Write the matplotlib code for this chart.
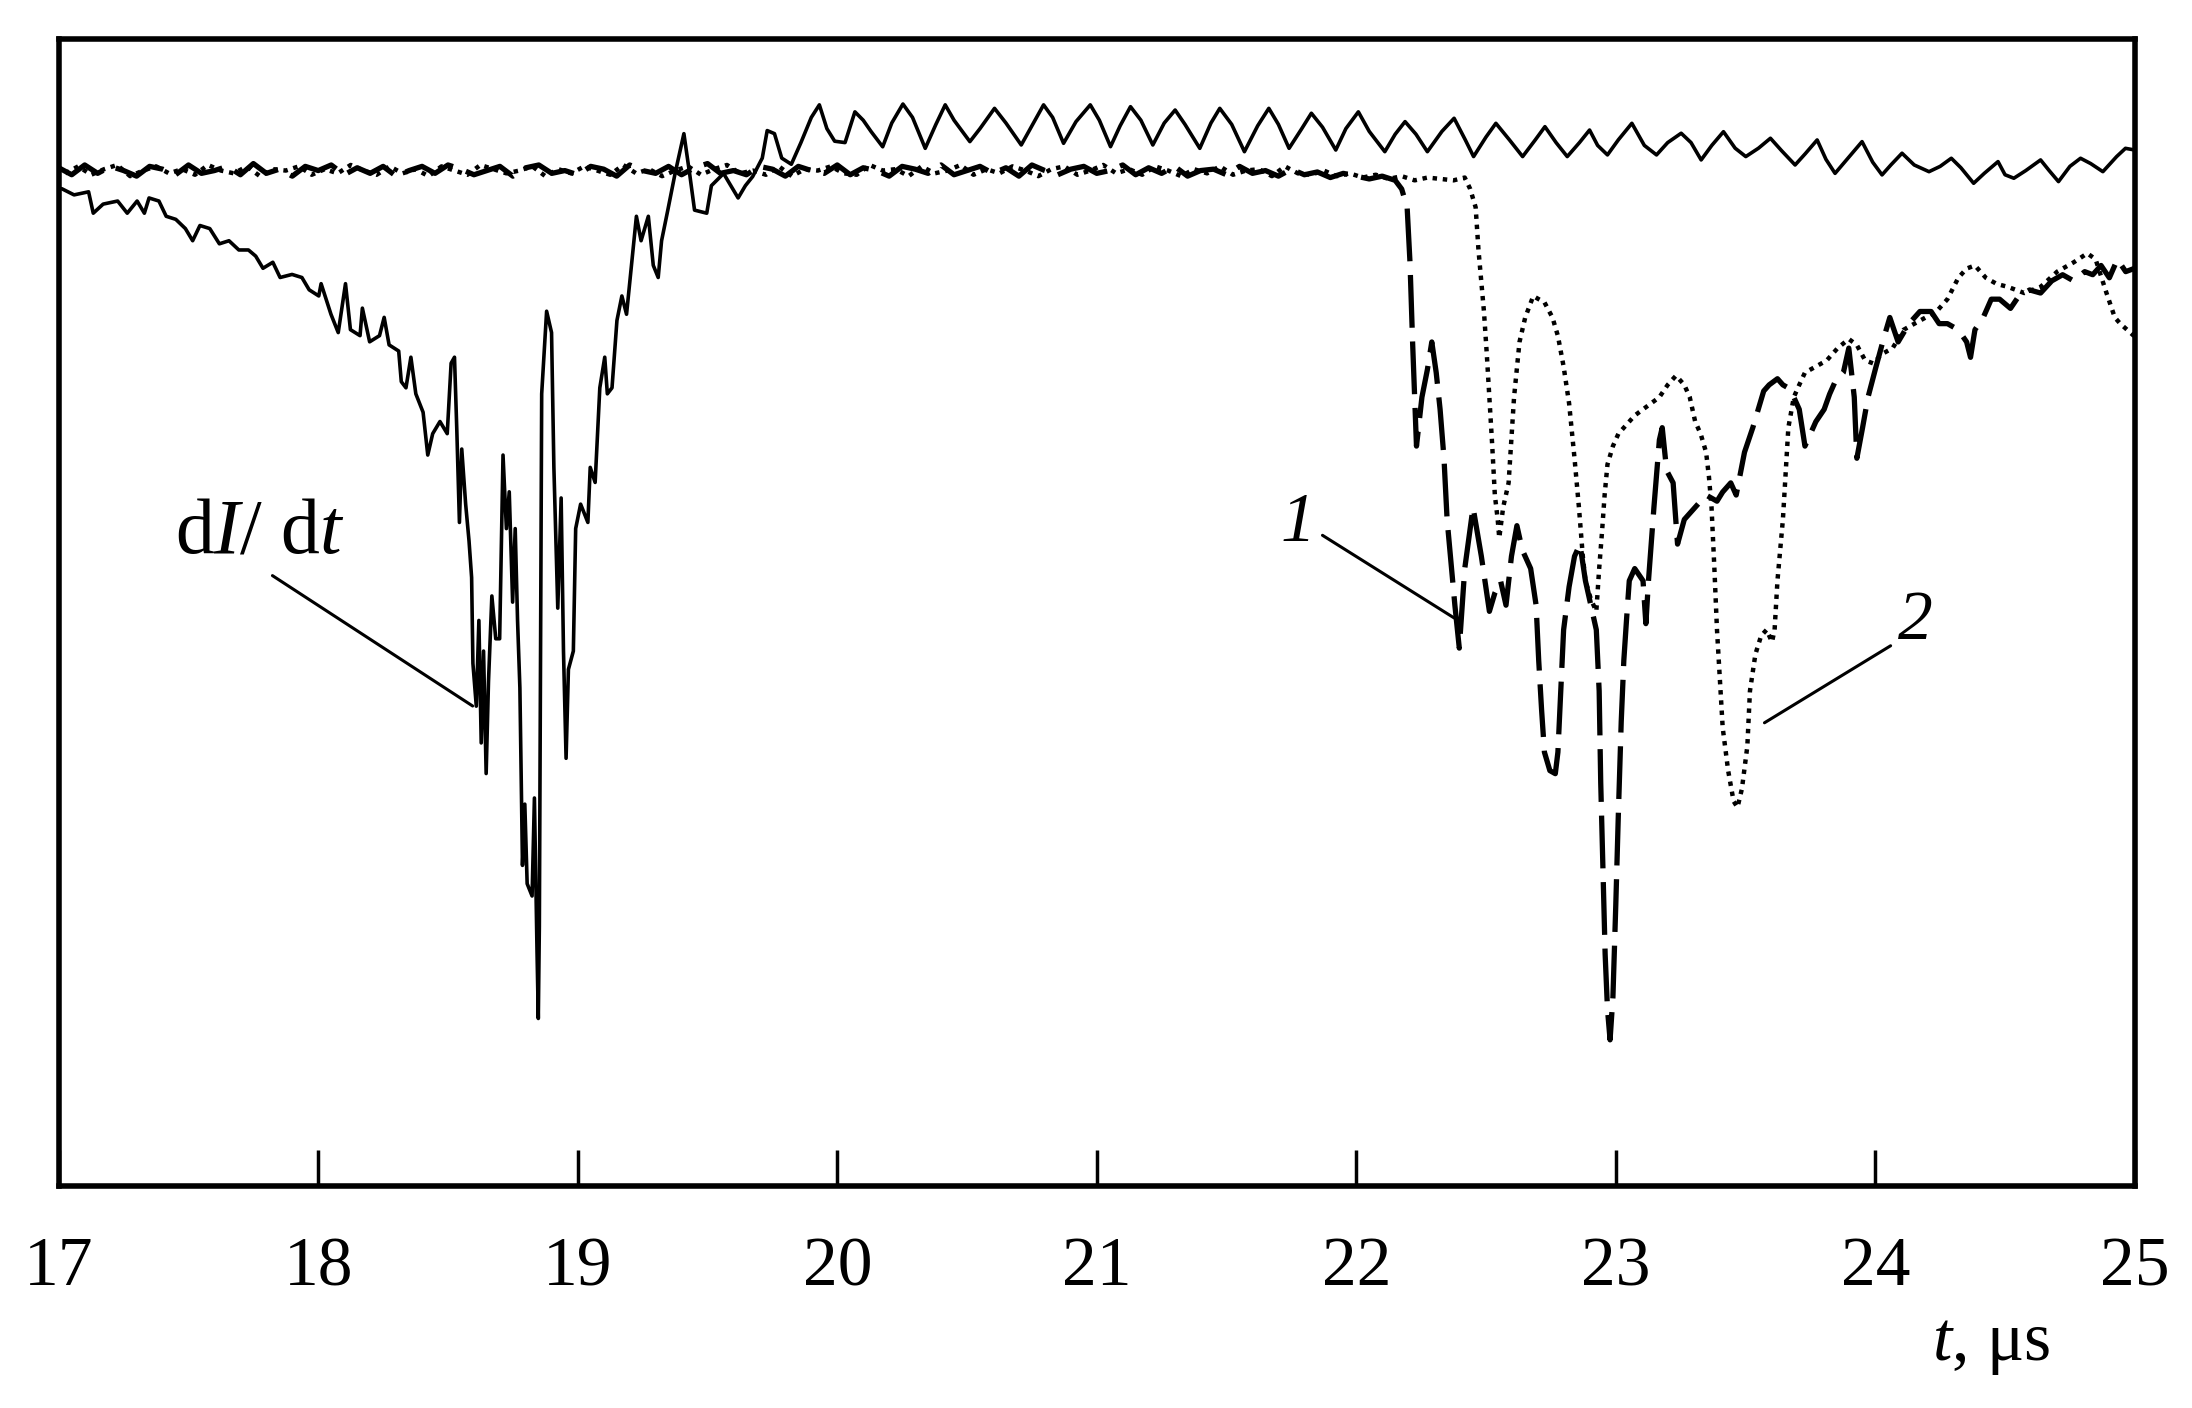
import matplotlib.pyplot as plt

plt.rcParams['font.family'] = ['Liberation Serif', 'DejaVu Serif']
plt.rcParams['mathtext.fontset'] = 'custom'
plt.rcParams['mathtext.rm'] = 'Liberation Serif'
plt.rcParams['mathtext.it'] = 'Liberation Serif:italic'

# time in microseconds, signals in arbitrary units (0 = probe baseline)

# dI/dt trace (solid)
didt_t = [17.000, 17.012, 17.059, 17.115, 17.133, 17.171, 17.227, 17.264, 17.302, 17.330,
          17.348, 17.386, 17.414, 17.451, 17.488, 17.516, 17.544, 17.582, 17.619, 17.656,
          17.694, 17.731, 17.759, 17.787, 17.825, 17.853, 17.899, 17.937, 17.965, 18.002,
          18.011, 18.049, 18.077, 18.105, 18.124, 18.161, 18.170, 18.198, 18.236, 18.254,
          18.273, 18.310, 18.320, 18.338, 18.357, 18.376, 18.404, 18.422, 18.441, 18.469,
          18.497, 18.512, 18.525, 18.534, 18.544, 18.553, 18.568, 18.581, 18.591, 18.596,
          18.609, 18.619, 18.628, 18.637, 18.647, 18.656, 18.669, 18.684, 18.699, 18.712,
          18.725, 18.736, 18.749, 18.759, 18.768, 18.777, 18.787, 18.796, 18.805, 18.824,
          18.833, 18.843, 18.848, 18.852, 18.861, 18.880, 18.899, 18.908, 18.923, 18.936,
          18.945, 18.955, 18.964, 18.983, 18.992, 19.011, 19.039, 19.048, 19.067, 19.085,
          19.104, 19.114, 19.132, 19.151, 19.170, 19.188, 19.207, 19.226, 19.244, 19.272,
          19.291, 19.310, 19.323, 19.347, 19.375, 19.409, 19.431, 19.450, 19.497, 19.515,
          19.562, 19.618, 19.646, 19.674, 19.711, 19.730, 19.758, 19.786, 19.823,
          19.86, 19.90, 19.931, 19.96, 19.99, 20.03, 20.068, 20.10, 20.13, 20.175,
          20.21, 20.253, 20.29, 20.339, 20.38, 20.416, 20.45, 20.511, 20.55, 20.606,
          20.65, 20.709, 20.75, 20.795, 20.83, 20.872, 20.92, 20.975, 21.01, 21.053,
          21.09, 21.130, 21.17, 21.216, 21.26, 21.302, 21.34, 21.397, 21.44, 21.474,
          21.52, 21.569, 21.62, 21.663, 21.70, 21.741, 21.79, 21.827, 21.87, 21.921,
          21.96, 22.008, 22.05, 22.110, 22.15, 22.188, 22.23, 22.274, 22.33, 22.377,
          22.42, 22.452, 22.50, 22.538, 22.59, 22.641, 22.69, 22.727, 22.77, 22.813,
          22.86, 22.899, 22.93, 22.968, 23.01, 23.062, 23.11, 23.157, 23.20, 23.252,
          23.29, 23.329, 23.37, 23.415, 23.46, 23.501, 23.55, 23.596, 23.64, 23.691,
          23.73, 23.776, 23.81, 23.845, 23.90, 23.949, 23.99, 24.026, 24.06, 24.103,
          24.15, 24.207, 24.25, 24.293, 24.33, 24.379, 24.42, 24.473, 24.50, 24.534,
          24.58, 24.637, 24.67, 24.706, 24.75, 24.791, 24.83, 24.877, 24.93, 24.964, 25.0]
didt_v = [-13.0, -13.0, -17.4, -15.2, -30.5, -24.0, -21.8, -30.5, -21.8, -30.5,
          -19.6, -21.8, -32.7, -34.9, -41.5, -50.2, -39.3, -41.5, -52.4, -50.2,
          -56.8, -56.8, -61.2, -69.9, -65.6, -76.5, -74.3, -76.5, -85.3, -89.7,
          -80.9, -102.8, -115.9, -80.9, -113.8, -118.1, -98.4, -122.5, -118.1, -105.0,
          -124.7, -129.1, -151.0, -155.4, -133.5, -159.7, -172.9, -203.5, -188.2, -179.5,
          -188.2, -137.8, -133.5, -186.0, -251.7, -199.2, -238.6, -264.9, -291.1, -352.5,
          -383.1, -321.8, -409.4, -343.7, -431.3, -365.6, -304.3, -334.9, -334.9, -203.5,
          -256.1, -229.8, -308.7, -256.1, -321.8, -370.0, -497.0, -453.2, -510.1, -518.9,
          -448.8, -558.3, -606.5, -540.8, -159.7, -100.6, -115.9, -212.3, -313.0, -234.2,
          -343.7, -420.4, -356.8, -343.7, -256.1, -238.6, -251.7, -212.3, -223.1, -155.4,
          -133.5, -159.7, -155.4, -107.2, -89.7, -102.8, -67.8, -32.7, -50.2, -32.7,
          -67.8, -76.5, -50.2, -28.3, -2.1, 26.4, -2.1, -28.3, -30.5, -10.8,
          -2.1, -19.6, -10.8, -4.3, 8.9, 28.6, 26.4, 8.9, 4.5,
          20, 38, 47, 30, 21, 20, 42, 36, 28, 17,
          34, 47.6, 38, 15.9, 33, 47, 36, 20.7, 30, 44.5,
          34, 18.3, 32, 47, 38, 19.5, 35, 47, 36, 17.1,
          32, 45.7, 36, 18.3, 34, 43.3, 33, 15.9, 34, 44.5,
          33, 13.5, 32, 44.5, 33, 15.9, 30, 41, 31, 14.7,
          30, 42, 28, 13.5, 26, 35, 26, 13.5, 28, 37.4,
          22, 10, 24, 33.8, 22, 10, 22, 31.4, 20, 10,
          20, 29, 18, 11.2, 22, 33.8, 18, 11.2, 20, 26.7,
          20, 7.6, 18, 27.8, 16, 10, 16, 23.1, 14, 4.0,
          12, 21.9, 8, -2.0, 10, 20.7, 6, -3.1, 4, 12.4,
          4, -0.8, 3, 8.8, 2, -9.1, -2, 6.4, -3, -5.5,
          0, 7.6, 0, -7.9, 3, 8.8, 5, -0.8, 10, 15.9, 14.7]

# probe 1 (dashed)
p1_t = [17.00, 17.05, 17.10, 17.15, 17.20, 17.25, 17.30, 17.35, 17.40, 17.45,
        17.50, 17.55, 17.60, 17.65, 17.70, 17.75, 17.80, 17.85, 17.90, 17.95,
        18.00, 18.05, 18.10, 18.15, 18.20, 18.25, 18.30, 18.35, 18.40, 18.45,
        18.50, 18.55, 18.60, 18.65, 18.70, 18.75, 18.80, 18.85, 18.90, 18.95,
        19.00, 19.05, 19.10, 19.15, 19.20, 19.25, 19.30, 19.35, 19.40, 19.45,
        19.50, 19.55, 19.60, 19.65, 19.70, 19.75, 19.80, 19.85, 19.90, 19.95,
        20.00, 20.05, 20.10, 20.15, 20.20, 20.25, 20.30, 20.35, 20.40, 20.45,
        20.50, 20.55, 20.60, 20.65, 20.70, 20.75, 20.80, 20.85, 20.90, 20.95,
        21.00, 21.05, 21.10, 21.15, 21.20, 21.25, 21.30, 21.35, 21.40, 21.45,
        21.50, 21.55, 21.60, 21.65, 21.70, 21.75, 21.80, 21.85, 21.90, 21.95,
        22.00, 22.05, 22.10, 22.15,
        22.175, 22.196, 22.207, 22.217, 22.232, 22.253, 22.274, 22.291, 22.308, 22.323,
        22.338, 22.350, 22.365, 22.380, 22.397, 22.418, 22.450, 22.482, 22.513, 22.534,
        22.556, 22.577, 22.598, 22.619, 22.640, 22.672, 22.693, 22.703, 22.714, 22.725,
        22.746, 22.767, 22.777, 22.788, 22.799, 22.820, 22.841, 22.862, 22.883, 22.904,
        22.925, 22.936, 22.942, 22.951, 22.959, 22.968, 22.978, 22.989, 23.000, 23.010,
        23.021, 23.031, 23.042, 23.052, 23.073, 23.105, 23.116, 23.126, 23.147, 23.168,
        23.179, 23.196, 23.221, 23.238, 23.264, 23.306, 23.348, 23.390, 23.412, 23.443,
        23.464, 23.496, 23.528, 23.549, 23.570, 23.591, 23.623, 23.644, 23.665, 23.686,
        23.707, 23.729, 23.750, 23.771, 23.803, 23.824, 23.845, 23.877, 23.898, 23.919,
        23.929, 23.951, 23.972, 24.003, 24.035, 24.056, 24.088, 24.130, 24.172, 24.215,
        24.246, 24.278, 24.320, 24.352, 24.367, 24.384, 24.416, 24.447, 24.479, 24.521,
        24.553, 24.595, 24.637, 24.680, 24.722, 24.764, 24.807, 24.838, 24.870, 24.902,
        24.933, 24.965, 24.997]
p1_v = [2, -3, 4, -2, 3, 0, -4, 3, 1, -3,
        4, -2, 0, 3, -3, 5, -2, 1, -4, 3,
        0, 4, -3, 2, -2, 3, -4, 0, 3, -2,
        4, 1, -3, 0, 3, -4, 2, 4, -2, 0,
        -3, 3, 1, -4, 4, 0, -2, 3, -3, 2,
        5, -2, 0, -3, 3, 1, -4, 3, 0, -2,
        4, -3, 2, 0, -4, 3, 1, -2, 4, -3,
        0, 3, -2, 2, -4, 4, 0, -3, 1, 3,
        -2, 0, 4, -3, 2, -2, 3, -4, 0, 1,
        -3, 3, -2, 0, -4, 1, -3, -1, -5, -2,
        -4, -6, -4, -7,
        -13.2, -26.3, -65.7, -122.6, -197.1, -162.1, -142.4, -122.6, -144.5, -170.8,
        -205.8, -249.6, -280.3, -311.0, -341.6, -284.7, -240.9, -275.9, -315.3, -302.2,
        -293.4, -310.9, -275.9, -254.0, -271.5, -284.7, -310.9, -350.4, -385.4, -416.0,
        -429.2, -431.4, -416.0, -372.3, -328.5, -297.8, -275.9, -267.2, -293.4, -310.9,
        -328.5, -372.3, -437.9, -503.6, -560.5, -599.9, -621.8, -591.2, -525.5, -459.8,
        -394.2, -350.4, -319.7, -293.4, -284.7, -293.4, -324.1, -293.4, -240.9, -192.7,
        -183.9, -214.6, -223.4, -267.2, -249.6, -240.9, -232.1, -236.5, -229.9, -223.4,
        -232.1, -201.5, -183.9, -170.8, -157.7, -153.3, -148.9, -153.3, -155.5, -162.1,
        -170.8, -197.1, -188.3, -179.6, -170.8, -159.9, -151.1, -144.5, -127.0, -162.1,
        -205.8, -183.9, -162.1, -140.2, -118.3, -105.1, -122.6, -109.5, -100.8, -100.8,
        -109.5, -109.5, -113.9, -122.6, -133.6, -113.9, -105.1, -92.0, -92.0, -98.6,
        -89.8, -85.4, -87.6, -78.9, -74.5, -78.9, -72.3, -74.5, -67.9, -76.7,
        -63.5, -72.3, -70.1]

# probe 2 (dotted)
p2_t = [17.025, 17.075, 17.125, 17.175, 17.225, 17.275, 17.325, 17.375, 17.425, 17.475,
        17.525, 17.575, 17.625, 17.675, 17.725, 17.775, 17.825, 17.875, 17.925, 17.975,
        18.025, 18.075, 18.125, 18.175, 18.225, 18.275, 18.325, 18.375, 18.425, 18.475,
        18.525, 18.575, 18.625, 18.675, 18.725, 18.775, 18.825, 18.875, 18.925, 18.975,
        19.025, 19.075, 19.125, 19.175, 19.225, 19.275, 19.325, 19.375, 19.425, 19.475,
        19.525, 19.575, 19.625, 19.675, 19.725, 19.775, 19.825, 19.875, 19.925, 19.975,
        20.025, 20.075, 20.125, 20.175, 20.225, 20.275, 20.325, 20.375, 20.425, 20.475,
        20.525, 20.575, 20.625, 20.675, 20.725, 20.775, 20.825, 20.875, 20.925, 20.975,
        21.025, 21.075, 21.125, 21.175, 21.225, 21.275, 21.325, 21.375, 21.425, 21.475,
        21.525, 21.575, 21.625, 21.675, 21.725, 21.775, 21.825, 21.875, 21.925, 21.975,
        22.025, 22.075, 22.125, 22.175, 22.225, 22.275, 22.325, 22.375, 22.418,
        22.439, 22.460, 22.471, 22.492, 22.503, 22.513, 22.524, 22.534, 22.545, 22.551,
        22.566, 22.587, 22.608, 22.629, 22.651, 22.682, 22.703, 22.725, 22.756, 22.777,
        22.799, 22.820, 22.841, 22.858, 22.873, 22.883, 22.904, 22.925, 22.936, 22.947,
        22.957, 22.968, 22.989, 23.010, 23.031, 23.052, 23.073, 23.105, 23.137, 23.168,
        23.200, 23.232, 23.264, 23.285, 23.306, 23.327, 23.348, 23.359, 23.369, 23.380,
        23.390, 23.401, 23.412, 23.433, 23.454, 23.469, 23.486, 23.507, 23.517, 23.538,
        23.560, 23.581, 23.602, 23.612, 23.623, 23.644, 23.655, 23.665, 23.686, 23.707,
        23.729, 23.771, 23.813, 23.855, 23.898, 23.929, 23.961, 23.993, 24.024, 24.067,
        24.109, 24.151, 24.194, 24.236, 24.278, 24.320, 24.352, 24.384, 24.426, 24.468,
        24.511, 24.574, 24.637, 24.701, 24.764, 24.817, 24.849, 24.891, 24.923, 24.944,
        24.997]
p2_v = [-2, 3, -3, 1, 4, -4, 0, 3, -2, 1,
        -3, 4, 0, -2, 3, -4, 1, 0, 3, -3,
        1, -2, 4, 0, -3, 3, -2, 1, -4, 3,
        0, -3, 4, 1, -2, 0, 3, -4, 1, -2,
        3, 0, -3, 4, -2, 1, -4, 0, 3, -3,
        1, 4, -2, 0, -3, 3, -4, 1, 0, 3,
        -2, -3, 4, 0, 1, -4, 3, -2, 0, 4,
        -3, 1, -2, 3, 0, -4, 1, 3, -3, 0,
        4, -2, 1, -3, 3, 0, -4, 1, -2, 3,
        -3, 0, 1, -4, 3, -2, -3, 0, -4, -2,
        -5, -3, -6, -4, -7, -5, -6, -7, -5,
        -13.2, -26.3, -57.0, -100.8, -131.4, -162.1, -197.1, -232.1, -249.6, -262.8,
        -240.9, -223.4, -162.1, -122.6, -105.1, -89.8, -92.0, -94.2, -105.1, -118.3,
        -140.2, -166.4, -205.8, -240.9, -275.9, -293.4, -306.6, -315.3, -284.7, -258.4,
        -232.1, -210.2, -197.1, -188.3, -183.9, -179.6, -175.2, -170.8, -166.4, -162.1,
        -153.3, -146.7, -153.3, -162.1, -179.6, -188.3, -201.5, -219.0, -240.9, -284.7,
        -328.5, -363.5, -398.5, -429.2, -451.1, -455.5, -442.3, -411.7, -372.3, -346.0,
        -332.8, -328.5, -337.2, -328.5, -293.4, -249.6, -214.6, -183.9, -162.1, -153.3,
        -144.5, -140.2, -135.8, -127.0, -120.5, -124.8, -135.8, -138.0, -131.4, -127.0,
        -113.9, -109.5, -105.1, -100.8, -92.0, -76.7, -70.1, -67.9, -76.7, -81.1,
        -83.2, -87.6, -83.2, -72.3, -65.7, -59.2, -63.5, -87.6, -105.1, -109.5,
        -118.3]

xticks = [17, 18, 19, 20, 21, 22, 23, 24, 25]

fig = plt.figure(figsize=(21.92, 14.08), dpi=100)
ax = fig.add_axes([0.0268, 0.158, 0.9471, 0.8142])

ax.plot(didt_t, didt_v, color='black', lw=2.6)
ax.plot(p2_t, p2_v, color='black', lw=3.2, linestyle=(0, (1.0, 1.3)))
ax.plot(p1_t, p1_v, color='black', lw=3.8, linestyle=(0, (10, 2.6)))

ax.set_xlim(17, 25)
ax.set_ylim(-726, 94)
ax.set_xticks(xticks)
ax.set_yticks([])
ax.tick_params(axis='x', direction='in', length=26, width=2.5, pad=37, labelsize=50)
for sp in ax.spines.values():
    sp.set_linewidth(4)

ax.text(0.9306, -0.139, '$t$, μs', transform=ax.transAxes, ha='center', va='center', fontsize=50)

line_kw = dict(arrowstyle='-', lw=2.2, color='black', shrinkA=4, shrinkB=0)
ax.annotate('d$I$/ d$t$', xy=(18.595, -383), xytext=(17.776, -260), ha='center', va='center',
            fontsize=56, arrowprops=dict(relpos=(0.52, 0.0), **line_kw))
ax.annotate('1', xy=(22.377, -320), xytext=(21.774, -253), ha='center', va='center',
            fontsize=50, style='italic', arrowprops=dict(relpos=(1.0, 0.4), **line_kw))
ax.annotate('2', xy=(23.573, -395), xytext=(24.155, -323), ha='center', va='center',
            fontsize=50, style='italic', arrowprops=dict(relpos=(0.0, 0.2), **line_kw))

fig.savefig('out.png', dpi=100)
